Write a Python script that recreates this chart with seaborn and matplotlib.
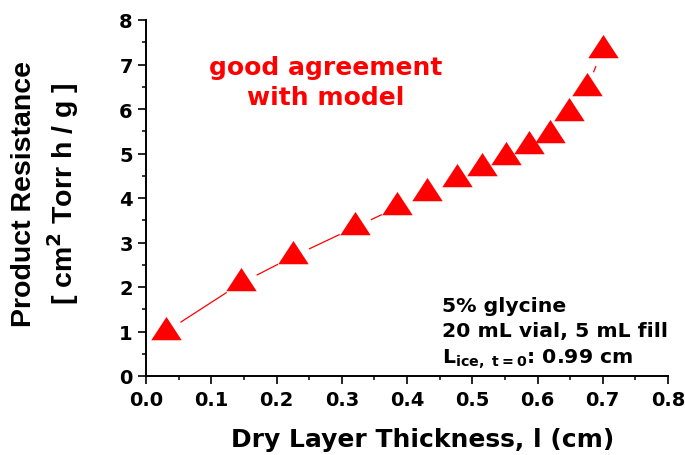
import matplotlib
matplotlib.use("Agg")
import matplotlib.pyplot as plt
import seaborn as sns
import pandas as pd
from matplotlib.ticker import MultipleLocator

# Dry layer thickness (cm) and measured product resistance (cm^2 Torr h / g)
thickness = [0.030, 0.145, 0.226, 0.320, 0.385, 0.430, 0.477, 0.515,
             0.551, 0.587, 0.619, 0.649, 0.676, 0.700]
resistance = [0.99, 2.08, 2.69, 3.34, 3.79, 4.11, 4.42, 4.67,
              4.93, 5.16, 5.42, 5.91, 6.48, 7.33]

x_ticks = [0.0, 0.1, 0.2, 0.3, 0.4, 0.5, 0.6, 0.7, 0.8]
y_ticks = [0, 1, 2, 3, 4, 5, 6, 7, 8]

df = pd.DataFrame({"thickness": thickness, "resistance": resistance})

sns.set_theme(style="ticks")
plt.rcParams["font.family"] = ["DejaVu Sans"]
plt.rcParams["font.weight"] = "bold"
plt.rcParams["text.color"] = "black"
plt.rcParams["axes.labelcolor"] = "black"
plt.rcParams["xtick.color"] = "black"
plt.rcParams["ytick.color"] = "black"
plt.rcParams["mathtext.fontset"] = "custom"
plt.rcParams["mathtext.rm"] = "DejaVu Sans:bold"
plt.rcParams["mathtext.it"] = "DejaVu Sans:bold"
plt.rcParams["mathtext.bf"] = "DejaVu Sans:bold"
plt.rcParams["mathtext.default"] = "rm"

fig = plt.figure(figsize=(6.85, 4.56), dpi=100)
ax = fig.add_axes([146 / 685, 1 - 377 / 456, 522 / 685, 356 / 456])

red = "#ff0000"
# triangle with its centroid on the data point
tri = [(-1, -0.509), (1, -0.509), (0, 1.019), (-1, -0.509)]

# thin connecting line, broken around each symbol by a white gap
sns.lineplot(data=df, x="thickness", y="resistance", ax=ax, color=red,
             linewidth=0.9, zorder=2)
sns.scatterplot(data=df, x="thickness", y="resistance", ax=ax, color="white",
                marker="o", s=620, linewidth=0, zorder=2.2)
sns.scatterplot(data=df, x="thickness", y="resistance", ax=ax, color=red,
                marker=tri, s=500, linewidth=0, zorder=3)

ax.set_xlim(0, 0.8)
ax.set_ylim(0, 8)
ax.set_xticks(x_ticks)
ax.set_yticks(y_ticks)
ax.set_xticklabels([f"{v:.1f}" for v in x_ticks])
ax.set_yticklabels([str(v) for v in y_ticks])
ax.xaxis.set_minor_locator(MultipleLocator(0.05))
ax.yaxis.set_minor_locator(MultipleLocator(0.5))
ax.tick_params(which="major", direction="out", length=5.5, width=1.2,
               labelsize=14)
ax.tick_params(axis="x", which="major", pad=4.5)
ax.tick_params(axis="y", which="major", pad=4)
ax.tick_params(which="minor", direction="out", length=3, width=1.1)
for lab in ax.get_xticklabels() + ax.get_yticklabels():
    lab.set_fontweight("bold")

for side in ("top", "right"):
    ax.spines[side].set_visible(False)
for side in ("left", "bottom"):
    ax.spines[side].set_color("black")
    ax.spines[side].set_linewidth(1.4)

ax.set_xlabel("Dry Layer Thickness, l (cm)", fontsize=18, fontweight="bold",
              va="baseline")
ax.xaxis.set_label_coords(0.53, -0.197)
ax.set_ylabel("Product Resistance\n[ cm$^2$ Torr h / g ]", fontsize=20.5,
              fontweight="bold", va="center", linespacing=1.3,
              family=["Liberation Sans", "DejaVu Sans"])
ax.yaxis.set_label_coords(-0.191, 0.515)

ax.text(0.276, 6.79, "good agreement", color=red, fontsize=18,
        fontweight="bold", ha="center", va="baseline")
ax.text(0.276, 6.11, "with model", color=red, fontsize=18,
        fontweight="bold", ha="center", va="baseline")

ax.text(0.454, 1.46, "5% glycine", fontsize=14.7, fontweight="bold",
        ha="left", va="baseline")
ax.text(0.454, 0.90, "20 mL vial, 5 mL fill", fontsize=14.7,
        fontweight="bold", ha="left", va="baseline")
ax.text(0.454, 0.29, r"L$_{ice,\ t=0}$: 0.99 cm", fontsize=14.7,
        fontweight="bold", ha="left", va="baseline")

fig.savefig("out.png", dpi=100, facecolor="white")
